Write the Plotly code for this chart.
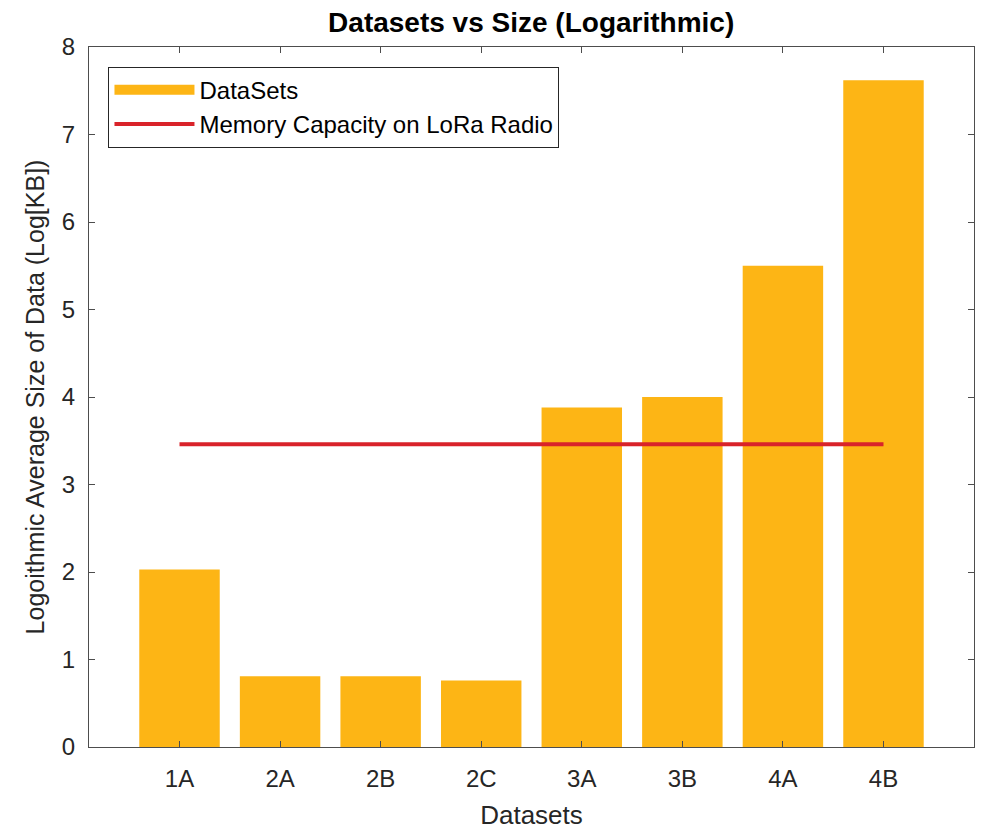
import plotly.graph_objects as go

categories = ["1A", "2A", "2B", "2C", "3A", "3B", "4A", "4B"]
log_sizes = [2.03, 0.81, 0.81, 0.76, 3.88, 4.00, 5.50, 7.62]
memory_capacity = 3.46
y_ticks = [0, 1, 2, 3, 4, 5, 6, 7, 8]

font_family = "Liberation Sans, Arial, sans-serif"
text_color = "#262626"
axis_color = "#4d4d4d"
bar_color = "#FDB515"
line_color = "#D9232A"

fig = go.Figure()
fig.add_trace(go.Bar(
    x=categories, y=log_sizes, name="DataSets",
    marker=dict(color=bar_color, line=dict(width=0)),
    width=0.8, showlegend=False, legendgroup="ds",
))
# legend swatch for the bar series (wide rectangle like the reference)
fig.add_trace(go.Scatter(
    x=[None], y=[None], mode="lines", name="DataSets", legendgroup="ds",
    line=dict(color=bar_color, width=22),
))
fig.add_trace(go.Scatter(
    x=[categories[0], categories[-1]], y=[memory_capacity, memory_capacity],
    mode="lines", name="Memory Capacity on LoRa Radio",
    line=dict(color=line_color, width=4),
))

axis_common = dict(
    showline=True, linecolor=axis_color, linewidth=1, mirror="ticks",
    ticks="inside", ticklen=6, tickcolor=axis_color, showgrid=False,
    zeroline=False, automargin=False,
    tickfont=dict(size=24, color=text_color, family=font_family),
)

fig.update_layout(
    width=989, height=832,
    paper_bgcolor="white", plot_bgcolor="white",
    margin=dict(l=81, r=23, t=39, b=93),
    font=dict(family=font_family, color=text_color),
    title=dict(text="<b>Datasets vs Size (Logarithmic)</b>", x=0.529, xanchor="center",
               y=0.983, yanchor="middle", font=dict(size=28, color="black")),
    xaxis=dict(**axis_common, range=[-0.9, 7.9], type="category",
               ticklabelstandoff=10,
               title=dict(text="Datasets", font=dict(size=26, color=text_color), standoff=15)),
    yaxis=dict(**axis_common, range=[0, 8], tickvals=y_ticks,
               ticklabelstandoff=8,
               title=dict(text="Logoithmic Average Size of Data (Log[KB])",
                          font=dict(size=25, color=text_color), standoff=10)),
    legend=dict(x=0.022, y=0.972, xanchor="left", yanchor="top",
                bordercolor="#262626", borderwidth=1, bgcolor="white",
                font=dict(size=24, color="black"), itemwidth=80,
                tracegroupgap=0),
    showlegend=True,
)

fig.write_html("out.html")
